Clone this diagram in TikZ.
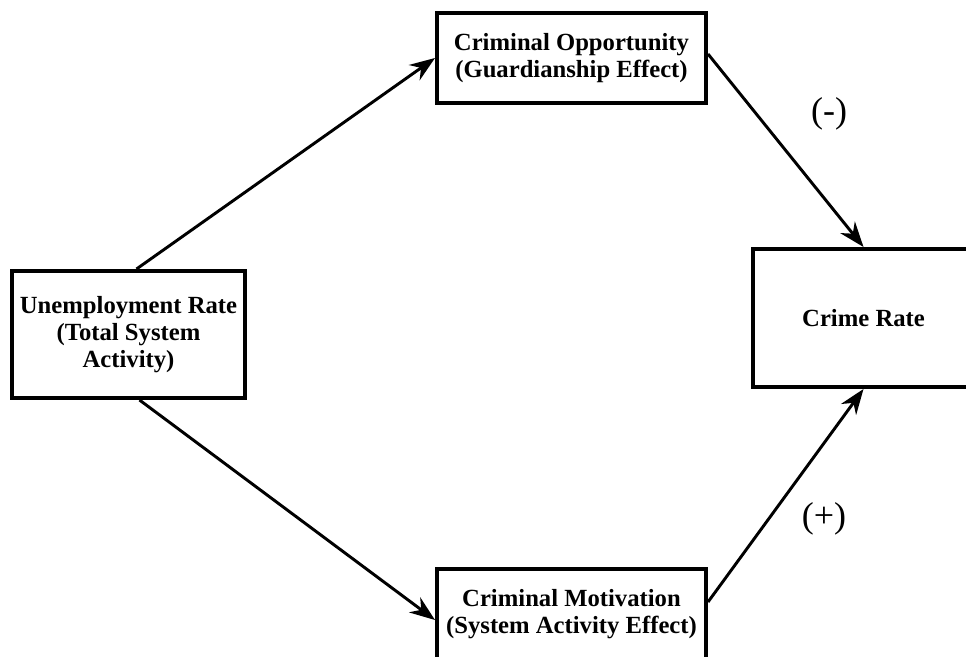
\documentclass[tikz,border=0pt]{standalone}
\usepackage{fontspec}
\setmainfont{Liberation Serif}
\usetikzlibrary{arrows.meta,calc}

\begin{document}
\begin{tikzpicture}[>={Stealth[length=19pt,width=14pt]}, x=.75pt, y=-.75pt,
	factor/.style={draw, line width=3pt, align=center, inner sep=0pt, font=\fontsize{18.5}{20.3}\selectfont\bfseries},
	link/.style={->, line width=2.2pt},
	sign/.style={font=\fontsize{27}{30}\selectfont}]
			\useasboundingbox (0,0) rectangle (966,656);

			% cause
			\node[factor, minimum width=174.75pt, minimum height=95.25pt] (unemployment) at (128.5,334.5) {Unemployment Rate\\(Total System\\Activity)};

			% two effects
			\node[factor, minimum width=201.75pt, minimum height=67.5pt] (opportunity) at (571.5,58) {Criminal Opportunity\\(Guardianship Effect)};
			\node[factor, minimum width=201.75pt, minimum height=67.5pt] (motivation) at (571.5,614) {Criminal Motivation\\(System Activity Effect)};

			% outcome
			\node[factor, minimum width=165.75pt, minimum height=103.5pt] (crimerate) at (863.5,318) {Crime Rate};

			\draw[link] ($(unemployment.north)+(8,0)$) -- (opportunity.west);
			\draw[link] ($(unemployment.south)+(11,0)$) -- ($(motivation.west)+(0,6)$);
			\draw[link] ($(opportunity.east)+(0,-4)$) -- (crimerate.north);
			\draw[link] ($(motivation.east)+(0,-12)$) -- (crimerate.south);

			\node[sign] (minus) at (829,114) {(-)};
			\node[sign] (plus) at (824,519) {(+)};

		\end{tikzpicture}
\end{document}
